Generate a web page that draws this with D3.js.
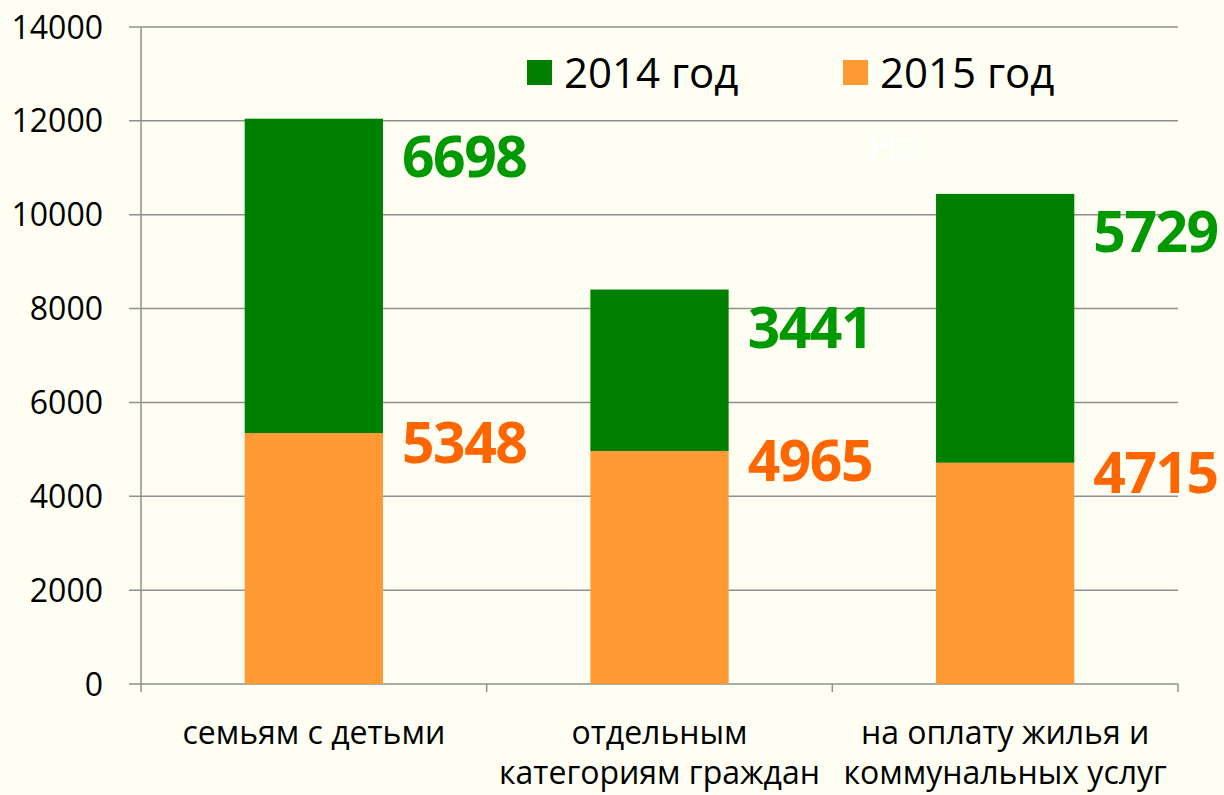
<!DOCTYPE html>
<html>
<head>
<meta charset="utf-8">
<script src="https://cdn.jsdelivr.net/npm/d3@7"></script>
<style>
  html, body { margin: 0; padding: 0; background: #fefef2; }
  svg { display: block; font-family: "Open Sans", sans-serif; }
</style>
</head>
<body>
<svg id="chart" width="1224" height="795"></svg>
<script>
// data
const categories = ["семьям с детьми", "отдельным\nкатегориям граждан", "на оплату жилья и\nкоммунальных услуг"];
const values2015 = [5348, 4965, 4715];
const values2014 = [6698, 3441, 5729];
const seriesNames = ["2014 год", "2015 год"];
const yTicks = [0, 2000, 4000, 6000, 8000, 10000, 12000, 14000];

const colors = {g: "#008000", o: "#ff9933", gLabel: "#009900", oLabel: "#ff6600", grid: "#8f8f8f"};

const svg = d3.select("#chart");
const margin = {top: 27, right: 46, bottom: 111, left: 141};
const W = 1224 - margin.left - margin.right;
const H = 795 - margin.top - margin.bottom;
const g = svg.append("g").attr("transform", `translate(${margin.left},${margin.top})`);

const x = d3.scaleBand().domain(categories).range([0, W]).padding(0);
const y = d3.scaleLinear().domain([0, 14000]).range([H, 0]);
const barW = x.bandwidth() * 0.4;

// gridlines + y labels
g.selectAll(".grid").data(yTicks).join("line")
    .attr("x1", -12).attr("x2", W)
    .attr("y1", d => y(d)).attr("y2", d => y(d))
    .attr("stroke", colors.grid).attr("stroke-width", 1.5);
g.selectAll(".ylab").data(yTicks).join("text")
    .attr("x", -38).attr("y", d => y(d)).attr("dy", "0.36em")
    .attr("text-anchor", "end").attr("font-size", 32).attr("fill", "#000")
    .text(d => d);

// stacked bars: 2015 at the bottom, 2014 on top
const rows = categories.map((c, i) => ({c, o: values2015[i], gr: values2014[i]}));
g.selectAll(".bo").data(rows).join("rect")
    .attr("x", d => x(d.c) + (x.bandwidth() - barW) / 2).attr("width", barW)
    .attr("y", d => y(d.o)).attr("height", d => H - y(d.o))
    .attr("fill", colors.o);
g.selectAll(".bg").data(rows).join("rect")
    .attr("x", d => x(d.c) + (x.bandwidth() - barW) / 2).attr("width", barW)
    .attr("y", d => y(d.o + d.gr)).attr("height", d => y(d.o) - y(d.o + d.gr))
    .attr("fill", colors.g);

// axes lines
g.append("line").attr("x1", 0).attr("x2", 0).attr("y1", 0).attr("y2", H + 8)
    .attr("stroke", colors.grid).attr("stroke-width", 1.5);
const edges = categories.map(c => x(c) + x.bandwidth());
g.selectAll(".xt").data(edges).join("line")
    .attr("x1", d => d).attr("x2", d => d).attr("y1", H).attr("y2", H + 8)
    .attr("stroke", colors.grid).attr("stroke-width", 1.5);

// value labels
const lx = d => x(d.c) + (x.bandwidth() + barW) / 2 + 19;
g.selectAll(".lg").data(rows).join("text")
    .attr("x", lx).attr("y", d => y(d.o + d.gr) + 58)
    .attr("font-size", 57).attr("font-weight", "bold").attr("letter-spacing", -1.5)
    .attr("fill", colors.gLabel)
    .text(d => d.gr);
g.selectAll(".lo").data(rows).join("text")
    .attr("x", lx).attr("y", d => y(d.o) + 30)
    .attr("font-size", 57).attr("font-weight", "bold").attr("letter-spacing", -1.5)
    .attr("fill", colors.oLabel)
    .text(d => d.o);

// category labels
categories.forEach(c => {
    const lines = c.split("\n");
    const t = g.append("text").attr("text-anchor", "middle").attr("font-size", 32).attr("fill", "#000");
    lines.forEach((ln, k) => {
        t.append("tspan").attr("x", x(c) + x.bandwidth() / 2).attr("y", H + 60 + k * 40).text(ln);
    });
});

// legend
const legX = [527, 843];
const leg = svg.append("g");
seriesNames.forEach((s, i) => {
    leg.append("rect").attr("x", legX[i]).attr("y", 60).attr("width", 25).attr("height", 25)
        .attr("fill", i === 0 ? colors.g : colors.o);
    leg.append("text").attr("x", legX[i] + 37).attr("y", 88).attr("font-size", 42).attr("fill", "#000").text(s);
});

// stray white text in the original
svg.append("text").attr("x", 868).attr("y", 160).attr("font-size", 40).attr("fill", "#ffffff").text("На");
</script>
</body>
</html>
